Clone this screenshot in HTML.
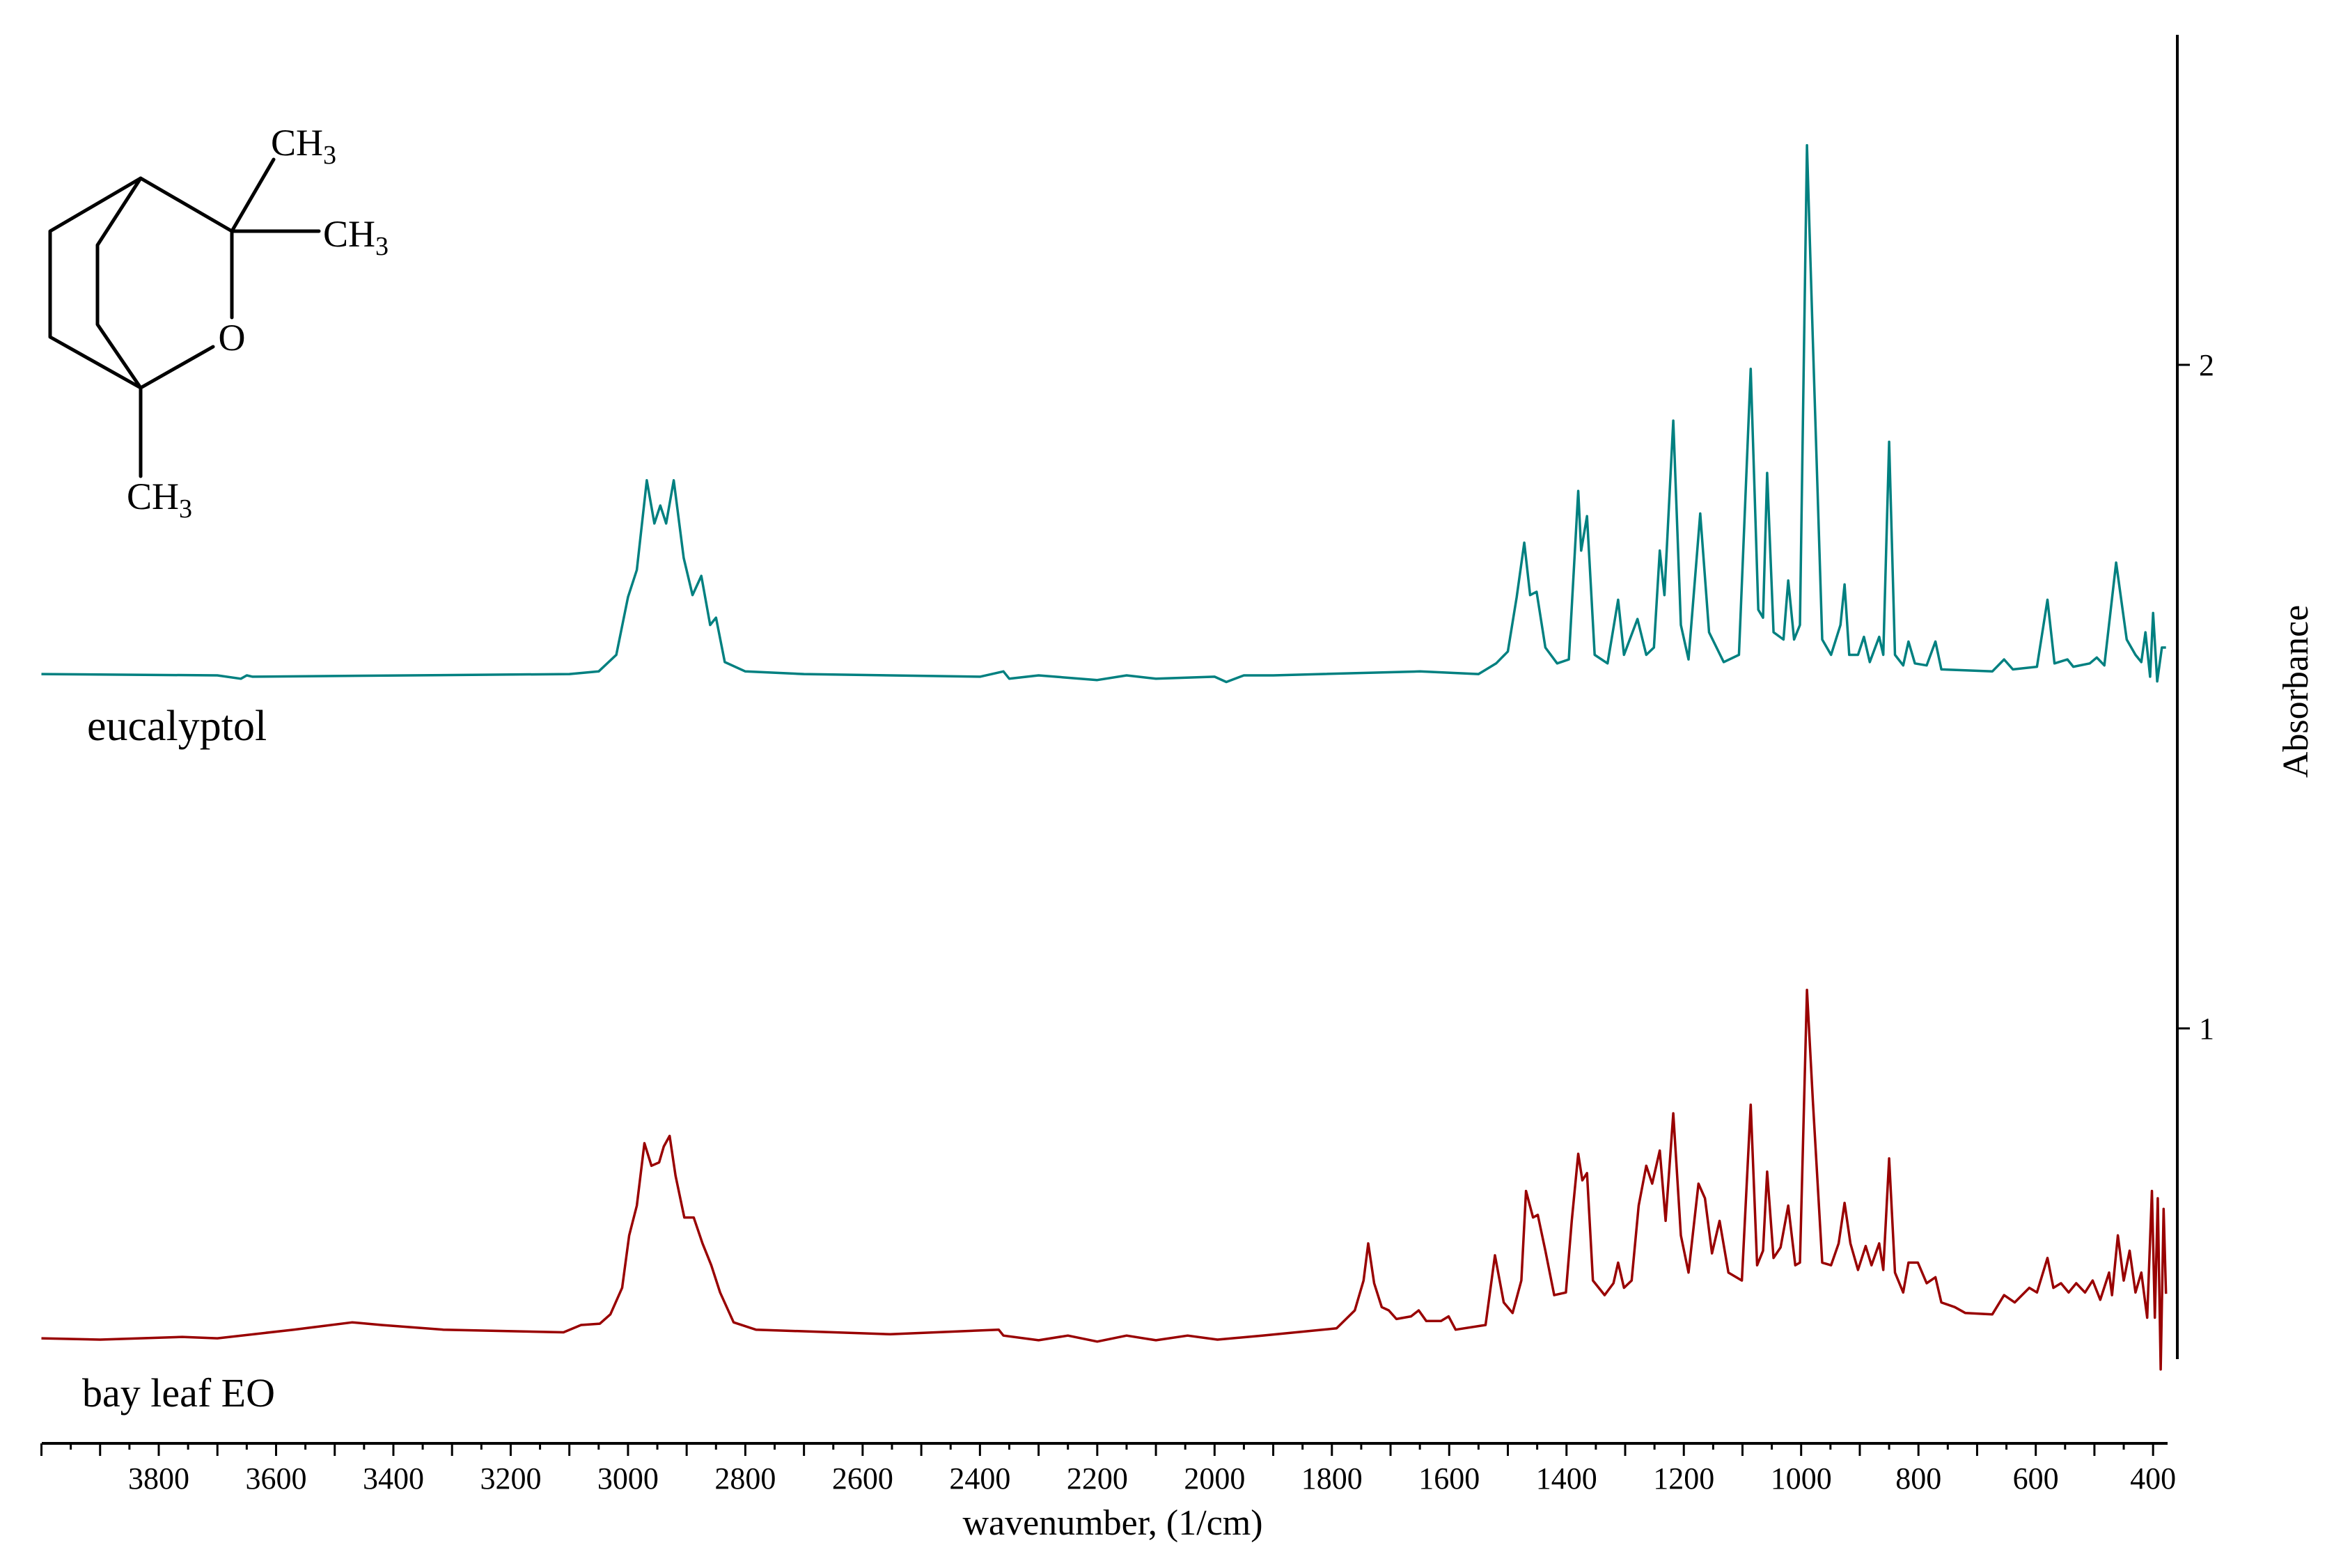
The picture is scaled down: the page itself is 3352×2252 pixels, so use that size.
<!DOCTYPE html>
<html><head><meta charset="utf-8"><style>
html,body{margin:0;padding:0;background:#fff;}
svg{display:block;}
text{font-family:"Liberation Serif",serif;fill:#000;}
</style></head><body>
<svg id="chart" width="3352" height="2252" viewBox="0 0 3352 2252" xmlns="http://www.w3.org/2000/svg">
<g id="molecule" stroke="#000" stroke-width="5" fill="none" stroke-linecap="round" stroke-linejoin="round">
  <polyline points="333,332 202,256 72,332 72,484 202,557 306,498"/>
  <polyline points="202,256 140,352 140,466 202,557"/>
  <line x1="333" y1="332" x2="333" y2="456"/>
  <line x1="333" y1="332" x2="393" y2="229"/>
  <line x1="333" y1="332" x2="458" y2="332"/>
  <line x1="202" y1="557" x2="202" y2="684"/>
</g>
<text x="333" y="503" font-size="54" text-anchor="middle">O</text>
<text x="389" y="223" font-size="54">CH<tspan font-size="38" dy="12">3</tspan></text>
<text x="464" y="354" font-size="54">CH<tspan font-size="38" dy="12">3</tspan></text>
<text x="182" y="731" font-size="54">CH<tspan font-size="38" dy="12">3</tspan></text>

<text x="125" y="1063" font-size="62">eucalyptol</text>
<text x="118" y="2020" font-size="58">bay leaf EO</text>
<text x="1598" y="2204" font-size="52" text-anchor="middle">wavenumber, (1/cm)</text>
<text x="0" y="0" font-size="52" text-anchor="middle" transform="translate(3314,993) rotate(-90)">Absorbance</text>
<g id="axes"></g>
<g id="series"></g>
</svg>
<script>
const xTickMajor = [4000,3900,3800,3700,3600,3500,3400,3300,3200,3100,3000,2900,2800,2700,2600,2500,2400,2300,2200,2100,2000,1900,1800,1700,1600,1500,1400,1300,1200,1100,1000,900,800,700,600,500,400];
const xTickLabels = [3800,3600,3400,3200,3000,2800,2600,2400,2200,2000,1800,1600,1400,1200,1000,800,600,400];
const yTickLabels = [1,2];

const eucWave = [4000,3700,3660,3650,3640,3100,3050,3020,3000,2985,2968,2955,2945,2935,2922,2905,2890,2875,2860,2850,2835,2800,2700,2400,2360,2350,2300,2200,2150,2100,2000,1980,1950,1900,1650,1550,1520,1500,1485,1472,1462,1451,1436,1416,1396,1380,1375,1365,1352,1330,1312,1302,1279,1264,1251,1241,1233,1218,1205,1192,1172,1157,1132,1106,1086,1073,1065,1058,1047,1030,1022,1012,1002,990,980,964,949,933,926,918,903,893,883,867,860,850,840,826,817,806,786,771,761,674,654,639,598,580,568,546,536,508,496,483,463,445,430,420,413,405,400,393,385,378];
const eucAbs = [1.534,1.532,1.527,1.532,1.530,1.534,1.538,1.563,1.650,1.691,1.826,1.761,1.788,1.761,1.826,1.709,1.653,1.682,1.608,1.619,1.552,1.538,1.534,1.530,1.538,1.527,1.532,1.525,1.532,1.527,1.530,1.522,1.532,1.532,1.538,1.534,1.550,1.568,1.650,1.732,1.653,1.658,1.574,1.550,1.556,1.810,1.720,1.772,1.563,1.550,1.646,1.563,1.617,1.563,1.574,1.720,1.653,1.916,1.608,1.556,1.776,1.597,1.552,1.563,1.994,1.631,1.619,1.837,1.597,1.586,1.675,1.586,1.608,2.331,2.035,1.586,1.563,1.608,1.669,1.563,1.563,1.590,1.552,1.590,1.563,1.884,1.563,1.547,1.583,1.550,1.547,1.583,1.541,1.538,1.556,1.541,1.545,1.646,1.550,1.556,1.545,1.550,1.559,1.547,1.702,1.586,1.563,1.552,1.597,1.530,1.626,1.523,1.574,1.574];

const bayWave = [4000,3900,3760,3700,3570,3470,3420,3315,3110,3080,3048,3030,3010,2998,2985,2972,2960,2947,2939,2929,2919,2904,2888,2873,2858,2843,2820,2782,2553,2368,2360,2300,2250,2200,2150,2100,2046,1995,1919,1792,1761,1746,1738,1728,1715,1703,1690,1665,1652,1639,1614,1601,1589,1538,1522,1507,1492,1477,1469,1457,1449,1436,1421,1401,1391,1380,1373,1365,1355,1335,1320,1312,1302,1289,1277,1264,1254,1241,1231,1218,1205,1192,1175,1164,1152,1139,1124,1101,1086,1075,1065,1058,1047,1035,1022,1010,1002,990,980,964,949,936,926,916,903,890,880,867,860,850,840,826,817,801,786,771,761,738,720,674,654,636,611,598,580,570,557,544,531,516,503,490,475,470,460,450,440,430,420,410,402,397,392,387,382,378];
const bayAbs = [0.533,0.531,0.535,0.533,0.546,0.557,0.553,0.546,0.542,0.553,0.555,0.569,0.609,0.688,0.733,0.827,0.793,0.798,0.822,0.838,0.778,0.715,0.715,0.676,0.643,0.602,0.557,0.546,0.539,0.546,0.537,0.530,0.537,0.528,0.537,0.530,0.537,0.531,0.537,0.548,0.575,0.620,0.676,0.616,0.580,0.575,0.562,0.566,0.575,0.559,0.559,0.566,0.546,0.553,0.658,0.587,0.571,0.620,0.755,0.715,0.719,0.665,0.598,0.602,0.710,0.811,0.771,0.782,0.620,0.598,0.616,0.647,0.609,0.620,0.733,0.793,0.766,0.816,0.710,0.872,0.688,0.632,0.766,0.744,0.661,0.710,0.632,0.620,0.885,0.643,0.665,0.784,0.654,0.670,0.733,0.643,0.647,1.058,0.890,0.647,0.643,0.676,0.737,0.676,0.636,0.672,0.643,0.676,0.636,0.804,0.632,0.602,0.647,0.647,0.616,0.625,0.587,0.580,0.571,0.569,0.598,0.587,0.609,0.602,0.654,0.609,0.616,0.602,0.616,0.602,0.620,0.591,0.632,0.598,0.688,0.620,0.665,0.602,0.632,0.564,0.755,0.564,0.744,0.486,0.728,0.600];

const NS = "http://www.w3.org/2000/svg";
function xPos(w){ return 228 + (3800 - w) * 0.8424; }
function yPos(a){ return 1477 - (a - 1) * 953; }
const axes = document.getElementById('axes');
const series = document.getElementById('series');

function mk(tag, attrs, parent){
  const el = document.createElementNS(NS, tag);
  for (const k in attrs) el.setAttribute(k, attrs[k]);
  parent.appendChild(el);
  return el;
}

let xl = mk('line', {x1:60, y1:2073, x2:3113, y2:2073, stroke:'#000', 'stroke-width':4}, axes);


let yl = mk('line', {x1:3127, y1:50, x2:3127, y2:1952, stroke:'#000', 'stroke-width':4}, axes);



xTickMajor.forEach(w => {
  const x = xPos(w);
  if (x >= 58 && x <= 3115) {
    const t = mk('line', {x1:x, y1:2073, x2:x, y2:2091, stroke:'#000', 'stroke-width':3}, axes);
    
    
  }
  const xm = xPos(w - 50);
  if (w - 50 >= 380 && xm <= 3115) {
    const m = mk('line', {x1:xm, y1:2073, x2:xm, y2:2082, stroke:'#000', 'stroke-width':3}, axes);
    
    
  }
});
xTickLabels.forEach(w => {
  const t = mk('text', {x:xPos(w), y:2138, 'font-size':44, 'text-anchor':'middle'}, axes);
  t.textContent = String(w);
  
  
});
yTickLabels.forEach(a => {
  const y = yPos(a);
  const t = mk('line', {x1:3127, y1:y, x2:3145, y2:y, stroke:'#000', 'stroke-width':3}, axes);
  
  
  const l = mk('text', {x:3158, y:y + 15, 'font-size':44}, axes);
  l.textContent = String(a);
  
  
});

function drawSeries(ws, as, color, name){
  let d = '';
  for (let i = 0; i < ws.length; i++) {
    d += (i ? 'L' : 'M') + xPos(ws[i]).toFixed(1) + ',' + yPos(as[i]).toFixed(1);
  }
  const p = mk('path', {d:d, fill:'none', stroke:color, 'stroke-width':3.5, 'stroke-linejoin':'round'}, series);
  
  
}
drawSeries(eucWave, eucAbs, '#008080', 'eucalyptol-spectrum-line');
drawSeries(bayWave, bayAbs, '#990000', 'bay-leaf-eo-spectrum-line');
</script>
</body></html>
